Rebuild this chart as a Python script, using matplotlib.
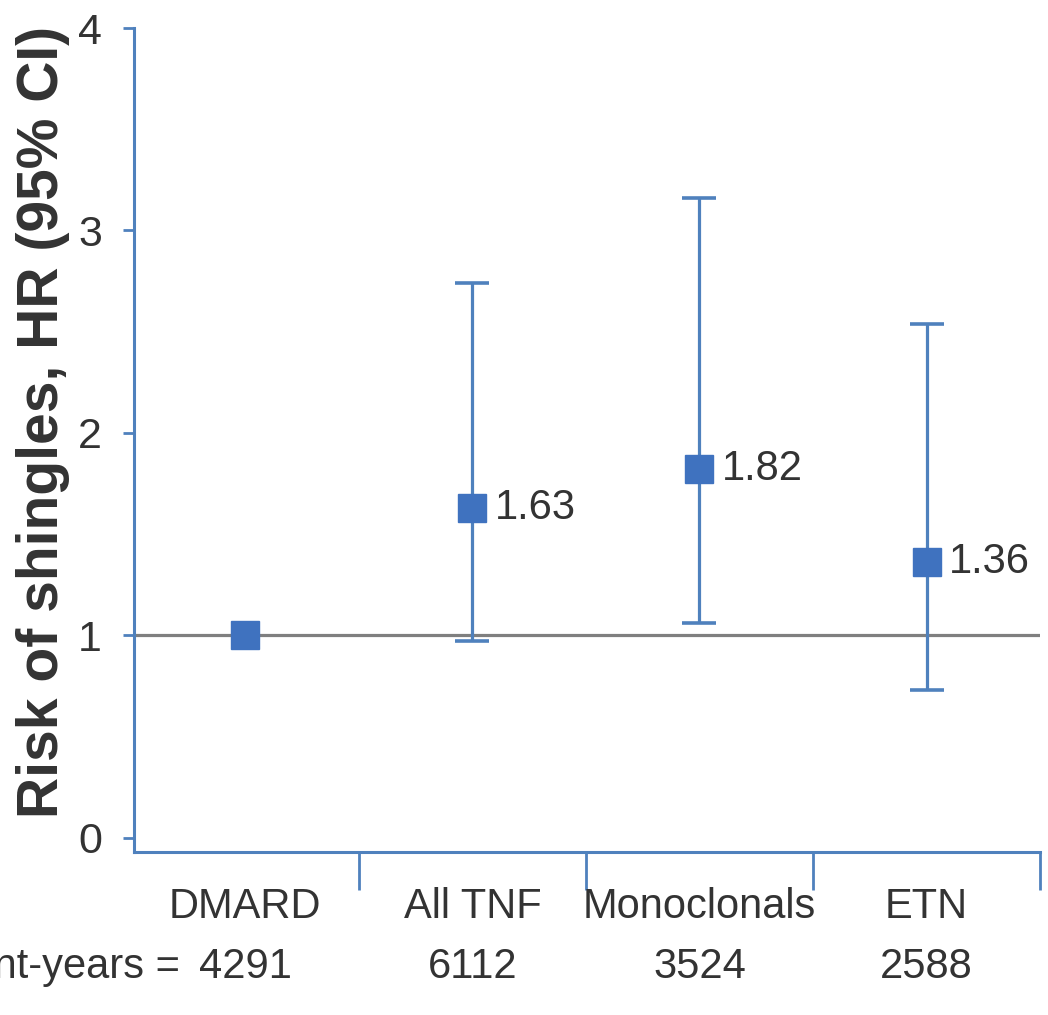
import matplotlib
matplotlib.use("Agg")
import matplotlib.pyplot as plt
from matplotlib.transforms import blended_transform_factory

categories = ["DMARD", "All TNF", "Monoclonals", "ETN"]
person_years = ["4291", "6112", "3524", "2588"]
hr = [1.00, 1.63, 1.82, 1.36]
ci_low = [None, 0.97, 1.06, 0.73]
ci_high = [None, 2.74, 3.16, 2.54]
hr_labels = [None, "1.63", "1.82", "1.36"]
y_ticks = [0, 1, 2, 3, 4]

font = "Liberation Sans"
blue = "#4F81BD"
marker_blue = "#3F72BF"
text_col = "#333333"

fig = plt.figure(figsize=(10.48, 10.15), dpi=100)
ax = fig.add_axes([0.1279, 0.1606, 0.8645, 0.8118])

x = list(range(len(categories)))
ax.axhline(1, color="#7F7F7F", lw=2.3, zorder=1)

for i in x:
    if ci_low[i] is not None:
        ax.errorbar(i, hr[i], yerr=[[hr[i] - ci_low[i]], [ci_high[i] - hr[i]]],
                    fmt="none", ecolor=blue, elinewidth=2.3, capsize=12, capthick=2.6, zorder=2)
    ax.plot(i, hr[i], marker="s", ms=20, color=marker_blue, mec=marker_blue, zorder=3)
    if hr_labels[i]:
        ax.annotate(hr_labels[i], (i, hr[i]), xytext=(16, 0), textcoords="offset points",
                    va="center", ha="left", fontsize=30, color=text_col, family=font)

ax.set_xlim(-0.49, 3.5)
ax.set_ylim(-0.07, 4.0)
ax.set_yticks(y_ticks)
ax.set_yticklabels([str(t) for t in y_ticks], fontsize=31, color=text_col, family=font)
ax.set_xticks([0.5, 1.5, 2.5, 3.5])
ax.set_xticklabels([])
ax.tick_params(axis="x", direction="out", length=27, width=2, color=blue)
ax.tick_params(axis="y", direction="out", length=8, width=2, color=blue, pad=15)

for s in ["top", "right"]:
    ax.spines[s].set_visible(False)
for s in ["left", "bottom"]:
    ax.spines[s].set_color(blue)
    ax.spines[s].set_linewidth(2.2)

ax.set_ylabel("Risk of shingles, HR (95% CI)", fontsize=41, fontweight="bold",
              color=text_col, family=font)
ax.yaxis.set_label_coords(-0.071, 0.522)

tr = blended_transform_factory(ax.transData, fig.transFigure)
for i in x:
    ax.text(i, 0.106, categories[i], transform=tr, ha="center", va="center",
            fontsize=30, color=text_col, family=font)
    ax.text(i, 0.047, person_years[i], transform=tr, ha="center", va="center",
            fontsize=30, color=text_col, family=font)
fig.text(180 / 1048, 0.047, "Patient-years =", ha="right", va="center",
         fontsize=30, color=text_col, family=font)

fig.savefig("out.png", dpi=100, facecolor="white")
